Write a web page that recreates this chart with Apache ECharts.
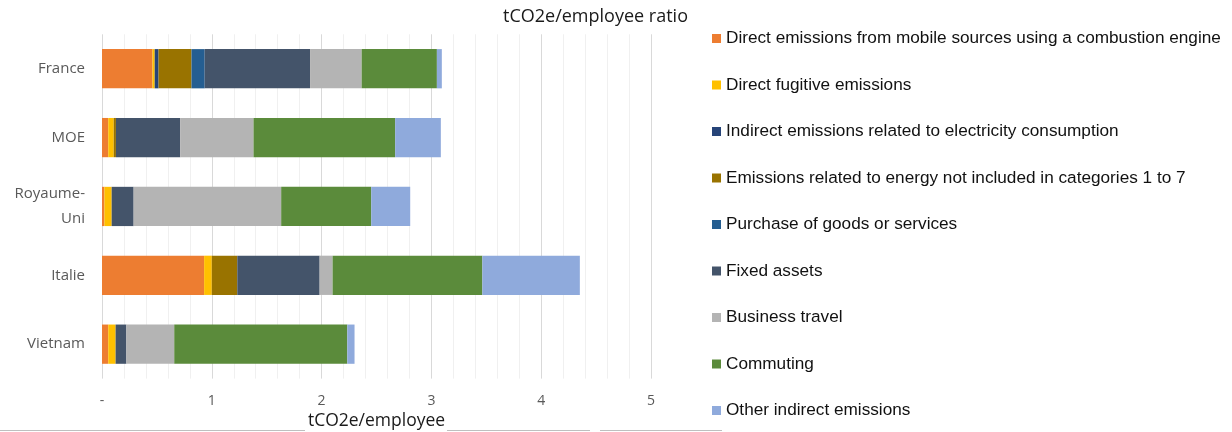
<!DOCTYPE html>
<html>
<head>
<meta charset="utf-8">
<title>tCO2e/employee ratio</title>
<script src="https://cdn.jsdelivr.net/npm/echarts@6/dist/echarts.min.js"></script>
<style>
  html, body { margin: 0; padding: 0; background: #fff; }
  #chart { width: 1232px; height: 432px; }
</style>
</head>
<body>
<div id="chart"></div>
<script>
// categories (top to bottom)
const categories = ["France", "MOE", "Royaume-\nUni", "Italie", "Vietnam"]

// series names (legend order)
const seriesNames = [
  "Direct emissions from mobile sources using a combustion engine",
  "Direct fugitive emissions",
  "Indirect emissions related to electricity consumption",
  "Emissions related to energy not included in categories 1 to 7",
  "Purchase of goods or services",
  "Fixed assets",
  "Business travel",
  "Commuting",
  "Other indirect emissions",
]

// values per series, same order as categories
const mobileSources = [0.46, 0.057, 0.022, 0.93, 0.057]
const fugitive = [0.02, 0.05, 0.066, 0.07, 0.067]
const electricity = [0.035, 0, 0, 0, 0]
const energyOther = [0.3, 0.02, 0, 0.232, 0]
const purchases = [0.12, 0, 0, 0, 0]
const fixedAssets = [0.96, 0.585, 0.2, 0.75, 0.098]
const businessTravel = [0.47, 0.668, 1.344, 0.118, 0.436]
const commuting = [0.685, 1.29, 0.82, 1.364, 1.576]
const otherIndirect = [0.045, 0.416, 0.355, 0.888, 0.066]

const seriesValues = [mobileSources, fugitive, electricity, energyOther, purchases,
  fixedAssets, businessTravel, commuting, otherIndirect]

const colors = ["#ED7D31", "#FFC000", "#264478", "#997300", "#255E91",
  "#44546A", "#B4B4B4", "#5B8B3B", "#8FAADC"]

const myChart = echarts.init(document.getElementById("chart"))

const series = seriesNames.map((name, i) => {
  return {
    name: name,
    type: "bar",
    stack: "total",
    barCategoryGap: "43%",
    itemStyle: { color: colors[i] },
    data: seriesValues[i],
  }
})

const option = {
  animation: false,
  color: colors,
  title: {
    text: "tCO2e/employee ratio",
    left: 503,
    top: 8,
    padding: 0,
    textStyle: { fontFamily: "Open Sans", fontSize: 18, fontWeight: "normal", color: "#1a1a1a" },
  },
  legend: {
    orient: "vertical",
    left: 712,
    top: 30,
    padding: 0,
    itemWidth: 9,
    itemHeight: 9,
    itemGap: 29.5,
    icon: "rect",
    textStyle: { fontFamily: "Liberation Sans", fontSize: 17.2, color: "#111" },
    data: seriesNames,
  },
  // fixed plot area, no auto shrink for labels
  grid: { left: 102, right: 581, top: 34.3, bottom: 53.4, containLabel: false, outerBoundsMode: "none" },
  xAxis: {
    type: "value",
    min: 0,
    max: 5,
    interval: 1,
    name: "tCO2e/employee",
    nameLocation: "middle",
    nameGap: 30,
    nameTextStyle: { fontFamily: "Open Sans", fontSize: 17.5, color: "#1a1a1a" },
    axisLine: { show: false },
    axisTick: { show: false },
    axisLabel: {
      color: "#595959",
      fontFamily: "Open Sans",
      fontSize: 14,
      margin: 15,
      formatter: v => (v === 0 ? "-" : v),
    },
    splitLine: { show: true, lineStyle: { color: "#d9d9d9", width: 1 } },
    minorTick: { show: false, splitNumber: 5 },
    minorSplitLine: { show: true, lineStyle: { color: "#f0f0f0", width: 1 } },
  },
  yAxis: {
    type: "category",
    inverse: true,
    data: categories,
    axisLine: { show: false },
    axisTick: { show: false },
    axisLabel: {
      color: "#595959",
      fontFamily: "Open Sans",
      fontSize: 15,
      lineHeight: 25,
      margin: 17,
    },
  },
  // thin frame line at the bottom, broken by the axis name
  graphic: [
    { type: "line", shape: { x1: 0, y1: 430.5, x2: 305, y2: 430.5 }, style: { stroke: "#bfbfbf", lineWidth: 1 } },
    { type: "line", shape: { x1: 447, y1: 430.5, x2: 590, y2: 430.5 }, style: { stroke: "#bfbfbf", lineWidth: 1 } },
    { type: "line", shape: { x1: 600, y1: 430.5, x2: 722, y2: 430.5 }, style: { stroke: "#bfbfbf", lineWidth: 1 } },
  ],
  series: series,
}

myChart.setOption(option)
</script>
</body>
</html>
